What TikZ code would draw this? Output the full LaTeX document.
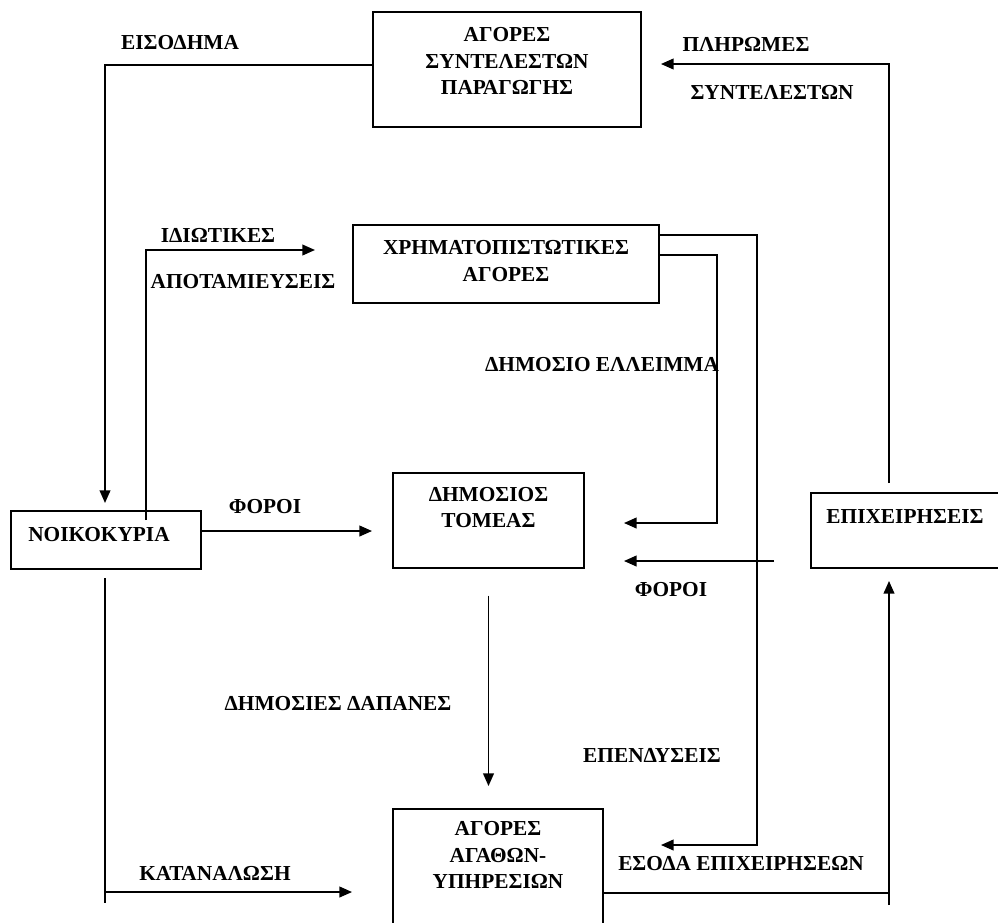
\documentclass[tikz,border=0pt]{standalone}
\usepackage{fontspec}
\setmainfont{Liberation Serif}
\usetikzlibrary{arrows.meta,calc}
\begin{document}
\begin{tikzpicture}[x=0.75pt,y=-0.75pt,
  box/.style={draw,line width=1.4pt,inner sep=0pt},
  txt/.style={font=\bfseries\fontsize{16}{20}\selectfont,align=center,inner sep=0pt},
  flow/.style={draw,line width=1.4pt,-{Triangle[length=9.5pt,width=8pt]}},
  plain/.style={draw,line width=1.4pt}]
\useasboundingbox (0,0) rectangle (998,922);
\fill[white] (0,0) rectangle (998,922);

% boxes
\node[box,minimum width=201pt,minimum height=86.25pt] (fac) at (507,69.5) {};
\node[txt] (facT) at (507,61) {ΑΓΟΡΕΣ\\ΣΥΝΤΕΛΕΣΤΩΝ\\ΠΑΡΑΓΩΓΗΣ};

\node[box,minimum width=229.5pt,minimum height=58.5pt] (fin) at (506,264) {};
\node[txt] (finT) at (506,261) {ΧΡΗΜΑΤΟΠΙΣΤΩΤΙΚΕΣ\\ΑΓΟΡΕΣ};

\node[box,minimum width=143.25pt,minimum height=71.25pt] (gov) at (488.5,520.5) {};
\node[txt] (govT) at (488.5,507.5) {ΔΗΜΟΣΙΟΣ\\ΤΟΜΕΑΣ};

\node[box,minimum width=142.5pt,minimum height=43.5pt] (hh) at (106,540) {};
\node[txt] (hhT) at (99,535) {ΝΟΙΚΟΚΥΡΙΑ};

\node[box,minimum width=141.75pt,minimum height=56.25pt] (firms) at (905.5,530.5) {};
\node[txt] (firmsT) at (905,517) {ΕΠΙΧΕΙΡΗΣΕΙΣ};

\node[box,minimum width=157.5pt,minimum height=98.25pt] (goods) at (498,874.5) {};
\node[txt] (goodsT) at (498,855) {ΑΓΟΡΕΣ\\ΑΓΑΘΩΝ-\\ΥΠΗΡΕΣΙΩΝ};

% coordinates
\coordinate (incB) at (105,65);
\coordinate (incE) at (105,503);
\coordinate (savS) at (146,520);
\coordinate (savB) at (146,250);
\coordinate (savE) at (315,250);
\coordinate (payS) at (889,483);
\coordinate (payB) at (889,64);
\coordinate (taxL) at (201,531);
\coordinate (defB) at (717,255);
\coordinate (defC) at (717,523);
\coordinate (invB) at (757,235);
\coordinate (invC) at (757,845);
\coordinate (ftS) at (774,561);
\coordinate (conS) at (105,578);
\coordinate (conE) at (105,903);
\coordinate (conB) at (105,892);
\coordinate (revB) at (889,893);
\coordinate (revE) at (889,905);

% connectors
\draw[flow] (fac.west |- incB) -- (incB) -- (incE);
\draw[flow] (savS) -- (savB) -- (savE);
\draw[flow,shorten >=14.25pt] (payS) -- (payB) -- (fac.east |- payB);
\draw[flow,shorten >=15pt] (hh.east |- taxL) -- (gov.west |- taxL);
\draw[flow,shorten >=29.25pt] (fin.east |- defB) -- (defB) -- (defC) -- (gov.east |- defC);
\draw[flow,shorten >=42.75pt] (fin.east |- invB) -- (invB) -- (invC) -- (goods.east |- invC);
\draw[flow,shorten >=29.25pt] (ftS) -- (gov.east |- ftS);
\draw[flow,shorten <=20pt,shorten >=16.5pt] (gov.south) -- (gov.south |- goods.north);
\draw[plain] (conS) -- (conE);
\draw[flow,shorten >=30pt] (conB) -- (goods.west |- conB);
\draw[plain] (goods.east |- revB) -- (revB);
\draw[flow,shorten >=9pt] (revE) -- (firms.south -| revE);

% flow labels
\node[txt] (lInc) at (180,43) {ΕΙΣΟΔΗΜΑ};
\node[txt] (lPay1) at (746,44) {ΠΛΗΡΩΜΕΣ};
\node[txt] (lPay2) at (772,92) {ΣΥΝΤΕΛΕΣΤΩΝ};
\node[txt] (lSav1) at (218,235) {ΙΔΙΩΤΙΚΕΣ};
\node[txt] (lSav2) at (243,282) {ΑΠΟΤΑΜΙΕΥΣΕΙΣ};
\node[txt] (lDef) at (602,365) {ΔΗΜΟΣΙΟ ΕΛΛΕΙΜΜΑ};
\node[txt] (lTax1) at (265,507) {ΦΟΡΟΙ};
\node[txt] (lTax2) at (671,590) {ΦΟΡΟΙ};
\node[txt] (lGov) at (338,704) {ΔΗΜΟΣΙΕΣ ΔΑΠΑΝΕΣ};
\node[txt] (lInv) at (652,755) {ΕΠΕΝΔΥΣΕΙΣ};
\node[txt] (lCon) at (215,873) {ΚΑΤΑΝΑΛΩΣΗ};
\node[txt] (lRev) at (741,864) {ΕΣΟΔΑ ΕΠΙΧΕΙΡΗΣΕΩΝ};
\end{tikzpicture}
\end{document}
